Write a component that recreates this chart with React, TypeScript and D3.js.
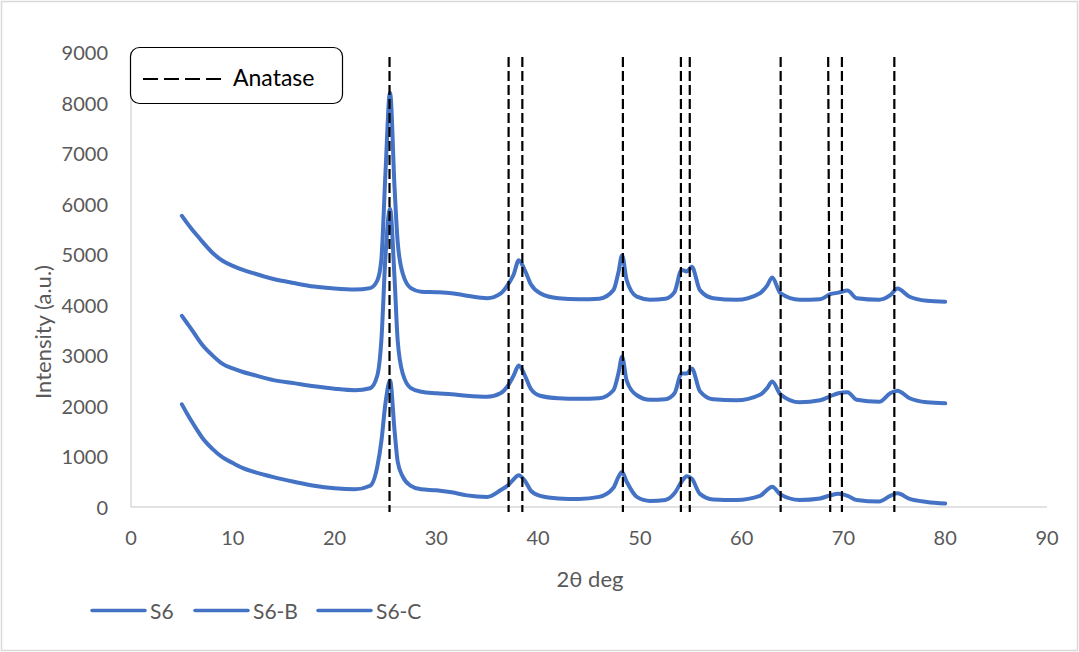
import React from "react";
import * as d3 from "d3";

const W = 1079;
const H = 652;

const twoTheta = [
  5, 5.5, 6, 6.5, 7, 8, 9, 10, 11, 12, 14, 16, 18, 20, 22, 23.5, 24.2, 24.6, 25.0, 25.45, 25.9, 26.2, 26.7, 27.5,
  28.5, 30, 31.5, 33, 35, 36.3, 37.1, 37.6, 38.1, 38.7, 39.3, 40.2, 42, 44, 46, 47.4, 47.9, 48.25, 48.7,
  49.7, 51, 52.5, 53.4, 54.1, 54.6, 55.1, 55.9, 57.2, 59.5, 61.8, 62.5, 63.0, 63.8, 65.7, 67.7, 68.7, 69.5,
  70.4, 71.3, 73.5, 74.6, 75.3, 76.5, 78.2, 80,
];

const s6 = [
  5760, 5620, 5490, 5370, 5250, 5030, 4870, 4770, 4690, 4625, 4510, 4430, 4360, 4320, 4300, 4330, 4480, 4900, 6600, 8200,
  6300, 5250, 4620, 4330, 4260, 4250, 4230, 4180, 4130, 4220, 4420, 4600, 4880, 4680, 4400, 4230, 4130, 4110,
  4120, 4290, 4650, 4980, 4490, 4160, 4100, 4120, 4250, 4690, 4660, 4750, 4290, 4130, 4100, 4230, 4380, 4540,
  4230, 4100, 4110, 4210, 4240, 4280, 4130, 4100, 4190, 4320, 4160, 4080, 4060,
];

const s6B = [
  3780, 3640, 3500, 3350, 3210, 3000, 2830, 2740, 2670, 2615, 2510, 2450, 2390, 2340, 2310, 2350, 2600, 3300, 4950, 5900,
  4500, 3300, 2640, 2350, 2280, 2250, 2230, 2200, 2180, 2250, 2420, 2600, 2800, 2600, 2330, 2200, 2150, 2140,
  2150, 2310, 2650, 2970, 2500, 2210, 2120, 2130, 2250, 2640, 2640, 2740, 2290, 2130, 2110, 2220, 2350, 2480,
  2230, 2070, 2110, 2190, 2250, 2270, 2120, 2080, 2250, 2300, 2150, 2070, 2050,
];

const s6C = [
  2030, 1850, 1680, 1520, 1370, 1150, 980, 870, 770, 700, 590, 500, 420, 370, 350, 420, 800, 1300, 2050, 2500,
  1500, 900, 600, 420, 350, 330, 290, 230, 200, 330, 440, 550, 630, 520, 320, 220, 170, 160,
  200, 380, 600, 690, 500, 200, 120, 140, 270, 500, 610, 560, 260, 150, 140, 220, 340, 400,
  250, 140, 170, 230, 260, 220, 140, 110, 220, 270, 160, 100, 70,
];

const seriesNames = ["S6", "S6-B", "S6-C"];
const seriesValues = [s6, s6B, s6C];

// Anatase reference lines: [x at top, x at bottom]
const anataseTop = [25.4, 37.1, 38.45, 48.33, 54.03, 54.9, 63.83, 68.5, 69.85, 75.0];
const anataseBottom = [25.4, 37.1, 38.45, 48.33, 54.03, 54.9, 63.83, 68.7, 69.85, 75.0];
const anataseRange = [-100, 8900];

const xTicks = [0, 10, 20, 30, 40, 50, 60, 70, 80, 90];
const yTicks = [0, 1000, 2000, 3000, 4000, 5000, 6000, 7000, 8000, 9000];

const BLUE = "#4472C4";
const GREY_TXT = "#595959";
const AXIS = "#d9d9d9";
const FONT = "Lato, 'Open Sans', sans-serif";

export default function App() {
  const x = d3.scaleLinear().domain([0, 90]).range([131, 1047]);
  const y = d3.scaleLinear().domain([0, 9000]).range([507, 52]);

  const line = d3
    .line<number>()
    .x((_, i) => x(twoTheta[i]))
    .y((d) => y(d))
    .curve(d3.curveMonotoneX);

  const legendItems = [
    { lx: 92, tx: 150 },
    { lx: 195, tx: 253 },
    { lx: 318, tx: 376 },
  ];

  return (
    <svg
      width={W}
      height={H}
      style={{ position: "absolute", left: 0, top: 0, background: "#fff" }}
      fontFamily={FONT}
    >
      <rect x={1.5} y={1.5} width={W - 3} height={H - 3} fill="#fff" stroke={AXIS} strokeWidth={1.5} />

      {/* axes */}
      <line x1={x(0)} x2={x(0)} y1={y(9000)} y2={y(0)} stroke={AXIS} strokeWidth={1.5} />
      <line x1={x(0)} x2={x(90)} y1={y(0)} y2={y(0)} stroke={AXIS} strokeWidth={1.5} />

      {yTicks.map((t) => (
        <text key={"y" + t} x={108} y={y(t)} textAnchor="end" dominantBaseline="central" fontSize={20} fill={GREY_TXT}>
          {t}
        </text>
      ))}
      {xTicks.map((t) => (
        <text key={"x" + t} x={x(t)} y={537} textAnchor="middle" dominantBaseline="central" fontSize={20} fill={GREY_TXT}>
          {t}
        </text>
      ))}

      <text x={590} y={578} textAnchor="middle" dominantBaseline="central" fontSize={22} fill={GREY_TXT}>
        2θ deg
      </text>
      <text
        transform={`translate(42,332) rotate(-90)`}
        textAnchor="middle"
        dominantBaseline="central"
        fontSize={22}
        fill={GREY_TXT}
      >
        Intensity (a.u.)
      </text>

      {/* series */}
      {seriesValues.map((vals, i) => (
        <path
          key={seriesNames[i]}
          d={line(vals) || ""}
          fill="none"
          stroke={BLUE}
          strokeWidth={4}
          strokeLinejoin="round"
          strokeLinecap="round"
        />
      ))}

      {/* anatase lines */}
      {anataseTop.map((xt, i) => (
        <line
          key={"a" + i}
          x1={x(xt)}
          x2={x(anataseBottom[i])}
          y1={y(anataseRange[1])}
          y2={y(anataseRange[0])}
          stroke="#000"
          strokeWidth={2.2}
          strokeDasharray="10,4"
        />
      ))}

      {/* Anatase legend */}
      <rect x={130.5} y={47.5} width={212} height={56} rx={9} ry={9} fill="#fff" stroke="#000" strokeWidth={1.2} />
      <line x1={143} x2={226} y1={79} y2={79} stroke="#000" strokeWidth={2} strokeDasharray="15,6" />
      <text x={233} y={77} dominantBaseline="central" fontSize={23} fill="#000">
        Anatase
      </text>

      {/* bottom legend */}
      {legendItems.map((it, i) => (
        <g key={"l" + i}>
          <line x1={it.lx} x2={it.lx + 53} y1={610.5} y2={610.5} stroke={BLUE} strokeWidth={3.5} strokeLinecap="round" />
          <text x={it.tx} y={610} dominantBaseline="central" fontSize={21} fill={GREY_TXT}>
            {seriesNames[i]}
          </text>
        </g>
      ))}
    </svg>
  );
}
